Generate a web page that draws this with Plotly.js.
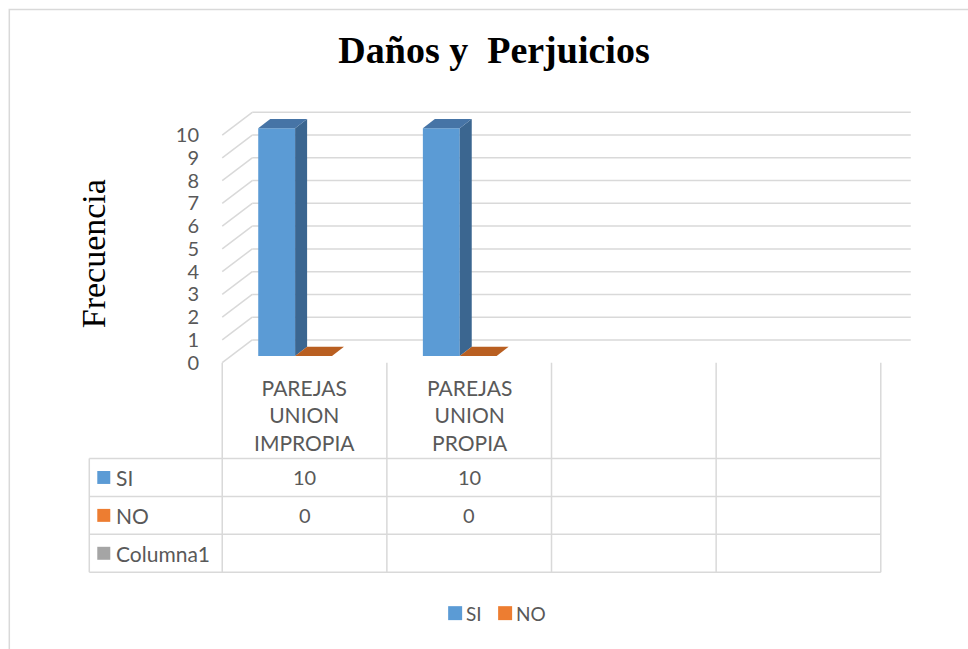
<!DOCTYPE html>
<html>
<head>
<meta charset="utf-8">
<script src="https://cdn.plot.ly/plotly-3.0.1.min.js"></script>
<style>html,body{margin:0;padding:0;background:#fff;}#chart{width:968px;height:649px;}</style>
</head>
<body>
<div id="chart"></div>
<script>
// ---- data ----
const categories = ["PAREJAS UNION IMPROPIA", "PAREJAS UNION PROPIA", "", ""];
const seriesNames = ["SI", "NO", "Columna1"];
const siValues = [10, 10, null, null];
const noValues = [0, 0, null, null];
const columna1Values = [null, null, null, null];
const yTicks = [0, 1, 2, 3, 4, 5, 6, 7, 8, 9, 10];
const legendSeries = ["SI", "NO"];
const chartTitle = "Daños y\u00A0 Perjuicios";
const yTitle = "Frecuencia";

// ---- styles ----
const frontColors = ["#5B9BD5", "#ED7D31", "#A5A5A5"];
const topColors = ["#4674A6", "#B95F21", "#8A8A8A"];
const sideColors = ["#3B6690", "#A4541C", "#7A7A7A"];
const grid = "#D9D9D9";
const txt = "#595959";
const sans = "Lato, 'Open Sans', sans-serif";
const serif = "'Liberation Serif', 'Times New Roman', serif";

const W = 968, H = 649;
const X_PX0 = 222, X_SCALE = 164.7;   // px per category column
const Y_PX0 = 363, Y_SCALE = 22.82;   // px per unit
const DX = 30 / X_SCALE, DY = 1.0;    // full depth offset (data units)
const GAP = 0.164, SLOT = (1 - 2 * GAP) / 3;
const D0 = 0.3, D1 = 0.7;             // bar depth from/to
const nCat = categories.length;
const xr = [-0.05, nCat + DX + 0.05], yr = [-0.1, 11.1];
const mL = X_PX0 + xr[0] * X_SCALE, mR = W - (X_PX0 + xr[1] * X_SCALE);
const mT = Y_PX0 - yr[1] * Y_SCALE, mB = H - (Y_PX0 - yr[0] * Y_SCALE);
const plotW = W - mL - mR, plotH = H - mT - mB;
const PX = px => (px - mL) / plotW;
const PY = py => (H - mB - py) / plotH;
const catPX = c => X_PX0 + c * X_SCALE;

const allSeries = [siValues, noValues, columna1Values];
const traces = [];
const shapes = [];
const annotations = [];

// back wall + side wall grid
yTicks.forEach(t => {
  shapes.push({type: "line", xref: "x", yref: "y", layer: "below", x0: DX, x1: nCat + DX, y0: t + DY, y1: t + DY, line: {color: grid, width: 1.5}});
  shapes.push({type: "line", xref: "x", yref: "y", layer: "below", x0: 0, x1: DX, y0: t, y1: t + DY, line: {color: grid, width: 1.5}});
});

// bars
allSeries.forEach((vals, s) => {
  const xs = [], ys = [];
  vals.forEach((v, i) => {
    xs.push(i + GAP + s * SLOT + SLOT / 2 + D0 * DX);
    ys.push(v);
  });
  traces.push({
    type: "bar", name: seriesNames[s], x: xs, y: ys, width: SLOT, base: D0 * DY,
    marker: {color: frontColors[s], line: {width: 0}},
    showlegend: false, hoverinfo: "skip"
  });
  vals.forEach((v, i) => {
    if (v === null) return;
    const x0 = i + GAP + s * SLOT + D0 * DX, x1 = x0 + SLOT;
    const ddx = (D1 - D0) * DX, ddy = (D1 - D0) * DY;
    const yb = D0 * DY, yt = v + D0 * DY;
    traces.push({type: "scatter", mode: "lines", fill: "toself", fillcolor: sideColors[s], line: {width: 0, color: sideColors[s]},
      x: [x1, x1, x1 + ddx, x1 + ddx, x1], y: [yb, yt, yt + ddy, yb + ddy, yb], showlegend: false, hoverinfo: "skip"});
    traces.push({type: "scatter", mode: "lines", fill: "toself", fillcolor: topColors[s], line: {width: 0, color: topColors[s]},
      x: [x0, x1, x1 + ddx, x0 + ddx, x0], y: [yt, yt, yt + ddy, yt + ddy, yt], showlegend: false, hoverinfo: "skip"});
  });
});

// data table
const tTop = 363, hdrBot = 459, rowH = 38, tLeft = 89;
const tBot = hdrBot + rowH * 3;
for (let c = 0; c <= nCat; c++) {
  shapes.push({type: "line", xref: "paper", yref: "paper", x0: PX(catPX(c)), x1: PX(catPX(c)), y0: PY(tTop), y1: PY(tBot), line: {color: grid, width: 1.5}});
}
shapes.push({type: "line", xref: "paper", yref: "paper", x0: PX(tLeft), x1: PX(tLeft), y0: PY(hdrBot), y1: PY(tBot), line: {color: grid, width: 1.5}});
for (let r = 0; r <= 3; r++) {
  const y = hdrBot + r * rowH;
  shapes.push({type: "line", xref: "paper", yref: "paper", x0: PX(tLeft), x1: PX(catPX(nCat)), y0: PY(y), y1: PY(y), line: {color: grid, width: 1.5}});
}
categories.forEach((c, i) => {
  if (!c) return;
  annotations.push({xref: "paper", yref: "paper", x: PX(catPX(i + 0.5)), y: PY(415), xanchor: "center", yanchor: "middle",
    text: c.split(" ").join("<br>"), showarrow: false, font: {family: sans, size: 21, color: txt}});
});
allSeries.forEach((vals, s) => {
  const cy = hdrBot + rowH * (s + 0.5);
  shapes.push({type: "rect", xref: "paper", yref: "paper", x0: PX(97), x1: PX(110), y0: PY(cy - 6.5), y1: PY(cy + 6.5), fillcolor: frontColors[s], line: {width: 0}});
  annotations.push({xref: "paper", yref: "paper", x: PX(114), y: PY(cy), xanchor: "left", yanchor: "middle",
    text: seriesNames[s], showarrow: false, font: {family: sans, size: 21, color: txt}});
  vals.forEach((v, i) => {
    if (v === null) return;
    annotations.push({xref: "paper", yref: "paper", x: PX(catPX(i + 0.5)), y: PY(cy), xanchor: "center", yanchor: "middle",
      text: String(v), showarrow: false, font: {family: sans, size: 20, color: txt}});
  });
});

// legend (drawn to match the original spacing)
const legStarts = [448, 498];
legendSeries.forEach((name, k) => {
  const s = seriesNames.indexOf(name);
  const lx = legStarts[k], cy = 614;
  shapes.push({type: "rect", xref: "paper", yref: "paper", x0: PX(lx), x1: PX(lx + 14), y0: PY(cy - 7), y1: PY(cy + 7), fillcolor: frontColors[s], line: {width: 0}});
  annotations.push({xref: "paper", yref: "paper", x: PX(lx + 16), y: PY(cy), xanchor: "left", yanchor: "middle",
    text: name, showarrow: false, font: {family: sans, size: 19, color: txt}});
});

// y-axis title
annotations.push({xref: "paper", yref: "paper", x: PX(94), y: PY(254), xanchor: "center", yanchor: "middle", textangle: -90,
  text: yTitle, showarrow: false, font: {family: serif, size: 34, color: "#000"}});

// outer border
shapes.push({type: "rect", xref: "paper", yref: "paper", x0: PX(9), y0: PY(9), x1: PX(1010), y1: PY(700), line: {color: grid, width: 1.5}, fillcolor: "rgba(0,0,0,0)"});

const layout = {
  width: W, height: H,
  margin: {l: mL, r: mR, t: mT, b: mB, pad: 0},
  paper_bgcolor: "#fff", plot_bgcolor: "rgba(0,0,0,0)",
  barmode: "overlay",
  title: {text: "<b>" + chartTitle + "</b>", x: 494 / W, xanchor: "center", xref: "container", y: 1 - 50 / H, yanchor: "middle", yref: "container",
    font: {family: serif, size: 38, color: "#000"}},
  xaxis: {range: xr, visible: false, fixedrange: true},
  yaxis: {range: yr, tickvals: yTicks, ticktext: yTicks.map(String), showgrid: false, zeroline: false, showline: false,
    ticks: "", ticklabelstandoff: 14, tickfont: {family: sans, size: 20, color: txt}},
  showlegend: false,
  shapes: shapes, annotations: annotations
};

Plotly.newPlot("chart", traces, layout, {displayModeBar: false, staticPlot: true});
</script>
</body>
</html>
